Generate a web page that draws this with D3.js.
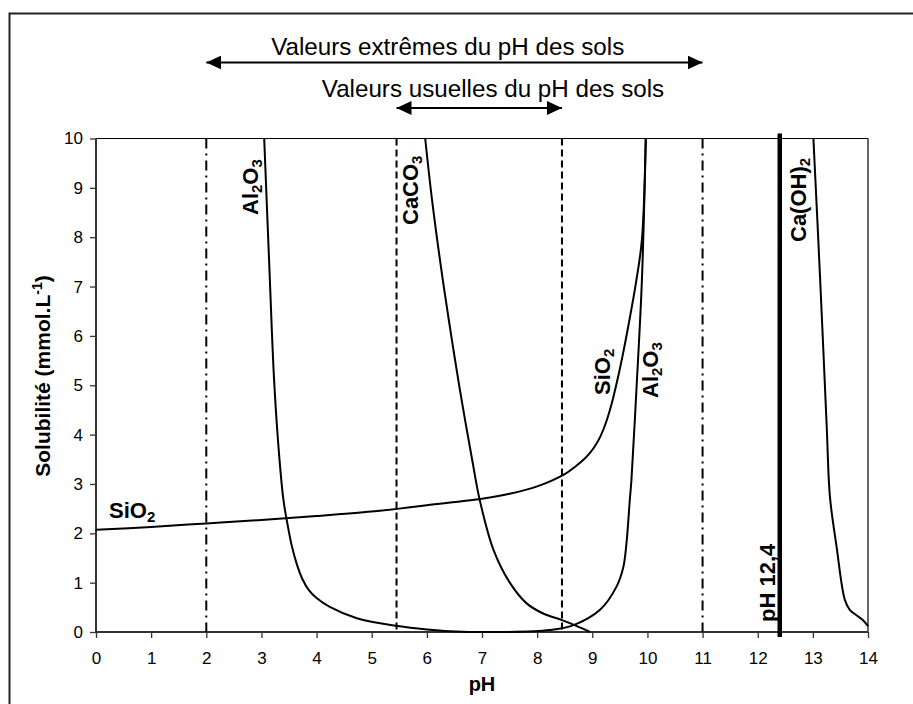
<!DOCTYPE html>
<html>
<head>
<meta charset="utf-8">
<script src="https://cdn.jsdelivr.net/npm/d3@7"></script>
<style>
  html, body { margin: 0; padding: 0; background: #fff; }
  svg { display: block; font-family: "Liberation Sans", Arial, Helvetica, sans-serif; }
</style>
</head>
<body>
<svg id="chart" width="913" height="704"></svg>
<script>
// Axis ticks
const phTicks = [0, 1, 2, 3, 4, 5, 6, 7, 8, 9, 10, 11, 12, 13, 14];
const solTicks = [0, 1, 2, 3, 4, 5, 6, 7, 8, 9, 10];

// Solubility curves: [pH, mmol/L]
const siO2Points = [
  [0, 2.07], [1, 2.13], [2, 2.2], [3, 2.27], [4, 2.35], [5, 2.44], [5.5, 2.5],
  [6, 2.57], [7, 2.7], [7.5, 2.8], [8, 2.95], [8.5, 3.2], [8.7, 3.36], [8.85, 3.5],
  [8.95, 3.62], [9.05, 3.77], [9.15, 3.97], [9.25, 4.25], [9.35, 4.62], [9.45, 5.08],
  [9.55, 5.6], [9.65, 6.18], [9.8, 7.13], [9.9, 7.95], [9.97, 10]
];
const al2o3Points = [
  [3.05, 10], [3.14, 7.5], [3.23, 5.1], [3.32, 3.6], [3.40, 2.67], [3.47, 2.2],
  [3.55, 1.75], [3.64, 1.38], [3.74, 1.08], [3.86, 0.85], [4.0, 0.69], [4.24, 0.51],
  [4.73, 0.28], [5.47, 0.12], [6.0, 0.05], [6.42, 0.015], [7.39, 0.0], [8.23, 0.04],
  [8.66, 0.14], [9.14, 0.45], [9.44, 0.92], [9.56, 1.3], [9.62, 1.8], [9.68, 2.67],
  [9.71, 3.08], [9.8, 4.9], [9.9, 7.13], [9.97, 10]
];
const caco3Points = [
  [5.97, 10], [6.1, 8.7], [6.3, 7.05], [6.45, 5.95], [6.6, 4.9], [6.82, 3.5],
  [6.96, 2.67], [7.21, 1.66], [7.51, 0.99], [7.81, 0.58], [8.1, 0.38], [8.45, 0.24],
  [8.7, 0.13], [8.96, 0.0]
];
const caOH2Points = [
  [13.01, 10], [13.13, 7.2], [13.25, 4.2], [13.31, 2.74], [13.43, 1.73],
  [13.58, 0.65], [13.67, 0.45], [13.79, 0.34], [13.91, 0.24], [14.0, 0.12]
];

// Soil pH ranges and the lime pH
const extremeRange = [2, 11];
const usualRange = [5.45, 8.45];
const limePH = 12.4;

const extremeText = "Valeurs extrêmes du pH des sols";
const usualText = "Valeurs usuelles du pH des sols";

const svg = d3.select("#chart");
const FONT = '"Liberation Sans", Arial, Helvetica, sans-serif';

// Outer frame
svg.append("rect")
  .attr("x", 9.5).attr("y", 13.5)
  .attr("width", 940).attr("height", 740)
  .attr("fill", "none").attr("stroke", "#222").attr("stroke-width", 2);

const x = d3.scaleLinear().domain([0, 14]).range([96, 868]);
const y = d3.scaleLinear().domain([0, 10]).range([632, 138.5]);

// Plot frame: thin top/right edges
svg.append("line").attr("x1", x(0)).attr("x2", x(14)).attr("y1", y(10)).attr("y2", y(10))
  .attr("stroke", "#000").attr("stroke-width", 1.2);
svg.append("line").attr("x1", x(14)).attr("x2", x(14)).attr("y1", y(10)).attr("y2", y(0))
  .attr("stroke", "#000").attr("stroke-width", 1.2);

// Axes
const yAxis = svg.append("g")
  .attr("transform", `translate(${x(0)},0)`)
  .call(d3.axisLeft(y).tickValues(solTicks).tickSize(6).tickPadding(7).tickFormat(d3.format("d")));
const xAxis = svg.append("g")
  .attr("transform", `translate(0,${y(0)})`)
  .call(d3.axisBottom(x).tickValues(phTicks).tickSize(6).tickPadding(14).tickFormat(d3.format("d")));
[yAxis, xAxis].forEach(g => {
  g.select(".domain").remove();
  g.selectAll(".tick line").attr("stroke", "#333").attr("stroke-width", 1.3);
  g.selectAll(".tick text").attr("fill", "#000").style("font-size", "17px").style("font-family", FONT);
});
svg.append("line").attr("x1", x(0)).attr("x2", x(0)).attr("y1", y(10)).attr("y2", y(0))
  .attr("stroke", "#333").attr("stroke-width", 2);
svg.append("line").attr("x1", x(0)).attr("x2", x(14)).attr("y1", y(0)).attr("y2", y(0))
  .attr("stroke", "#333").attr("stroke-width", 2);

// Reference verticals: extreme range (dash-dot), usual range (dashed)
svg.selectAll("line.extreme").data(extremeRange).join("line")
  .attr("class", "extreme")
  .attr("x1", d => x(d)).attr("x2", d => x(d))
  .attr("y1", y(10)).attr("y2", y(0))
  .attr("stroke", "#000").attr("stroke-width", 2)
  .attr("stroke-dasharray", "10,5,2,5");
svg.selectAll("line.usual").data(usualRange).join("line")
  .attr("class", "usual")
  .attr("x1", d => x(d)).attr("x2", d => x(d))
  .attr("y1", y(10)).attr("y2", y(0))
  .attr("stroke", "#000").attr("stroke-width", 2)
  .attr("stroke-dasharray", "7,4");

// Curves
const line = d3.line().x(d => x(d[0])).y(d => y(d[1])).curve(d3.curveCatmullRom.alpha(0.5));
[siO2Points, al2o3Points, caco3Points, caOH2Points].forEach(pts => {
  svg.append("path").datum(pts)
    .attr("d", line)
    .attr("fill", "none").attr("stroke", "#000").attr("stroke-width", 2);
});

// Lime pH line
svg.append("line")
  .attr("x1", x(limePH)).attr("x2", x(limePH))
  .attr("y1", y(10) - 5).attr("y2", y(0) + 5)
  .attr("stroke", "#000").attr("stroke-width", 4.5);

// Arrows for pH ranges
const defs = svg.append("defs");
["arrowStart", "arrowEnd"].forEach((id, i) => {
  defs.append("marker")
    .attr("id", id)
    .attr("markerUnits", "userSpaceOnUse")
    .attr("viewBox", "0 -7 15 14")
    .attr("refX", i === 0 ? 0 : 15).attr("refY", 0)
    .attr("markerWidth", 15).attr("markerHeight", 14)
    .attr("orient", "auto")
    .append("path")
    .attr("d", i === 0 ? "M15,-7L0,0L15,7Z" : "M0,-7L15,0L0,7Z")
    .attr("fill", "#000");
});
function rangeArrow(range, yPos) {
  svg.append("line")
    .attr("x1", x(range[0])).attr("x2", x(range[1]))
    .attr("y1", yPos).attr("y2", yPos)
    .attr("stroke", "#000").attr("stroke-width", 2.2)
    .attr("marker-start", "url(#arrowStart)")
    .attr("marker-end", "url(#arrowEnd)");
}
rangeArrow(extremeRange, 62.5);
rangeArrow(usualRange, 108);

svg.append("text")
  .attr("x", 447.7).attr("y", 55)
  .attr("text-anchor", "middle")
  .style("font-size", "24.2px").text(extremeText);
svg.append("text")
  .attr("x", 493).attr("y", 97)
  .attr("text-anchor", "middle")
  .style("font-size", "24.2px").text(usualText);

// Chemical labels with subscripts
function chemLabel(parts, px, py, rotate, size) {
  const t = svg.append("text")
    .attr("transform", `translate(${px},${py})` + (rotate ? " rotate(-90)" : ""))
    .style("font-size", size + "px").style("font-weight", "bold");
  parts.forEach(p => {
    if (p.sub) {
      t.append("tspan").attr("dy", size * 0.18).style("font-size", (size * 0.68) + "px").text(p.s);
    } else {
      t.append("tspan").attr("dy", p.after ? -size * 0.18 : 0).text(p.s);
    }
  });
  return t;
}
const LS = 22;
chemLabel([{s: "Al"}, {s: "2", sub: true}, {s: "O", after: true}, {s: "3", sub: true}], 258, 215, true, LS);
chemLabel([{s: "CaCO"}, {s: "3", sub: true}], 418, 225, true, LS);
chemLabel([{s: "SiO"}, {s: "2", sub: true}], 610, 395, true, LS);
chemLabel([{s: "Al"}, {s: "2", sub: true}, {s: "O", after: true}, {s: "3", sub: true}], 658, 398, true, LS);
chemLabel([{s: "Ca(OH)"}, {s: "2", sub: true}], 806, 242, true, LS);
chemLabel([{s: "SiO"}, {s: "2", sub: true}], 109, 518, false, LS);
svg.append("text")
  .attr("transform", "translate(775,622) rotate(-90)")
  .style("font-size", LS + "px").style("font-weight", "bold")
  .text("pH 12,4");

// Axis titles
svg.append("text")
  .attr("x", 482).attr("y", 691)
  .attr("text-anchor", "middle")
  .style("font-size", "20px").style("font-weight", "bold")
  .text("pH");
const yt = svg.append("text")
  .attr("transform", "translate(50,376) rotate(-90)")
  .attr("text-anchor", "middle")
  .style("font-size", "21px").style("font-weight", "bold");
yt.append("tspan").text("Solubilité (mmol.L");
yt.append("tspan").attr("dy", -8).style("font-size", "14px").text("-1");
yt.append("tspan").attr("dy", 8).text(")");
</script>
</body>
</html>
